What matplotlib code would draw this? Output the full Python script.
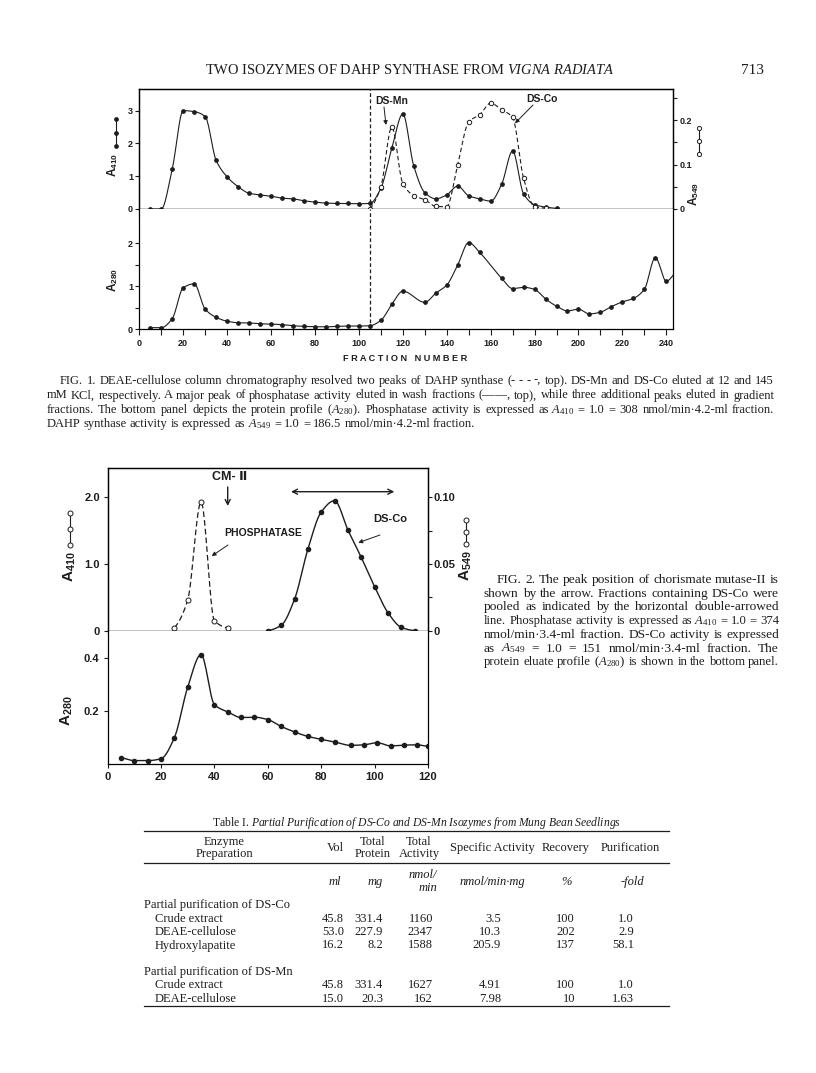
import numpy as np
import matplotlib
matplotlib.use('Agg')
import matplotlib.pyplot as plt
from matplotlib.lines import Line2D

plt.rcParams['font.family'] = ['Liberation Sans', 'DejaVu Sans']
plt.rcParams['font.weight'] = 'bold'
plt.rcParams['mathtext.fontset'] = 'custom'
plt.rcParams['mathtext.rm'] = 'Liberation Serif:weight=normal'
plt.rcParams['mathtext.it'] = 'Liberation Serif:style=italic:weight=normal'
plt.rcParams['mathtext.sf'] = 'Liberation Sans:weight=bold'
plt.rcParams['axes.linewidth'] = 0.9

# ---- Fig 1 data (fraction number) ----
frac_a410 = [5, 10, 15, 20, 25, 30, 35, 40, 45, 50, 55, 60, 65, 70, 75, 80, 85, 90, 95,
             100, 105, 110, 115, 120, 125, 130, 135, 140, 145, 150, 155, 160, 165, 170,
             175, 180, 185, 190]
a410 = [0, 0, 1.22, 3.0, 2.97, 2.82, 1.48, 0.98, 0.68, 0.48, 0.43, 0.39, 0.33, 0.31, 0.25,
        0.21, 0.18, 0.17, 0.17, 0.16, 0.17, 0.63, 1.85, 2.90, 1.31, 0.50, 0.31, 0.43, 0.70,
        0.40, 0.31, 0.24, 0.75, 1.77, 0.46, 0.13, 0.06, 0.02]
frac_a549 = [105, 110, 115, 120, 125, 130, 135, 140, 145, 150, 155, 160, 165, 170, 175, 180, 185]
a549 = [0.0, 0.05, 0.184, 0.057, 0.030, 0.021, 0.006, 0.005, 0.10, 0.196, 0.212, 0.238,
        0.223, 0.206, 0.069, 0.005, 0.002]
frac_a280 = [5, 10, 15, 20, 25, 30, 35, 40, 45, 50, 55, 60, 65, 70, 75, 80, 85, 90, 95, 100,
             105, 110, 115, 120, 130, 135, 140, 145, 150, 155, 165, 170, 175, 180, 185, 190,
             195, 200, 205, 210, 215, 220, 225, 230, 235, 240, 245]
a280 = [0.04, 0.04, 0.25, 0.97, 1.06, 0.47, 0.28, 0.19, 0.155, 0.15, 0.13, 0.124, 0.11,
        0.085, 0.07, 0.062, 0.06, 0.07, 0.078, 0.078, 0.085, 0.21, 0.58, 0.89, 0.63, 0.84,
        1.03, 1.50, 2.02, 1.79, 1.19, 0.95, 0.98, 0.93, 0.71, 0.54, 0.43, 0.47, 0.36, 0.40,
        0.53, 0.64, 0.72, 0.93, 1.67, 1.12, 1.35]
wash_end = 105

# ---- Fig 2 data ----
frac_phos = [25, 30, 35, 40, 45]
phos = [0.045, 0.46, 1.93, 0.15, 0.04]
frac_dsco = [60, 65, 70, 75, 80, 85, 90, 95, 100, 105, 110, 115]
dsco = [0, 0.004, 0.0235, 0.061, 0.089, 0.0975, 0.0755, 0.055, 0.033, 0.0135, 0.0025, 0]
frac_prot2 = [5, 10, 15, 20, 25, 30, 35, 40, 45, 50, 55, 60, 65, 70, 75, 80, 85, 91, 96,
              101, 106, 111, 116, 120]
prot2 = [0.022, 0.011, 0.011, 0.018, 0.098, 0.29, 0.414, 0.224, 0.196, 0.175, 0.176, 0.167,
         0.141, 0.12, 0.103, 0.092, 0.082, 0.069, 0.071, 0.079, 0.067, 0.07, 0.071, 0.065]

# ---- Table I ----
tab_cols = ['Vol', 'Total\nProtein', 'Total\nActivity', 'Specific Activity', 'Recovery', 'Purification']
tab_units = ['ml', 'mg', 'nmol/\nmin', 'nmol/min·mg', '%', '-fold']
sec_co = 'Partial purification of DS-Co'
rows_co = ['Crude extract', 'DEAE-cellulose', 'Hydroxylapatite']
vals_co = [['45.8', '331.4', '1160', '3.5', '100', '1.0'],
           ['53.0', '227.9', '2347', '10.3', '202', '2.9'],
           ['16.2', '8.2', '1588', '205.9', '137', '58.1']]
sec_mn = 'Partial purification of DS-Mn'
rows_mn = ['Crude extract', 'DEAE-cellulose']
vals_mn = [['45.8', '331.4', '1627', '4.91', '100', '1.0'],
           ['15.0', '20.3', '162', '7.98', '10', '1.63']]

W, H = 816, 1073
ink = '#1d1d1d'
fig = plt.figure(figsize=(W / 100, H / 100), dpi=100)
fig.patch.set_facecolor('white')
R = fig.canvas.get_renderer()


def box(x0, y0, x1, y1):
    return fig.add_axes([x0 / W, 1 - y1 / H, (x1 - x0) / W, (y1 - y0) / H])


def smooth(x, y, n=16):
    # monotone cubic through the read points, only for drawing the curve
    x = np.asarray(x, float)
    y = np.asarray(y, float)
    h = np.diff(x)
    d = np.diff(y) / h
    m = np.zeros_like(y)
    for k in range(1, len(x) - 1):
        if d[k - 1] * d[k] > 0:
            w1 = 2 * h[k] + h[k - 1]
            w2 = h[k] + 2 * h[k - 1]
            m[k] = (w1 + w2) / (w1 / d[k - 1] + w2 / d[k])
    m[0] = d[0] * 0.5
    m[-1] = d[-1] * 0.5
    t = np.linspace(0, 1, n, endpoint=False)
    h00 = 2 * t**3 - 3 * t**2 + 1
    h10 = t**3 - 2 * t**2 + t
    h01 = -2 * t**3 + 3 * t**2
    h11 = t**3 - t**2
    xs, ys = [], []
    for k in range(len(h)):
        xs.append(x[k] + t * h[k])
        ys.append(h00 * y[k] + h10 * h[k] * m[k] + h01 * y[k + 1] + h11 * h[k] * m[k + 1])
    xs.append([x[-1]])
    ys.append([y[-1]])
    return np.concatenate(xs), np.concatenate(ys)


def ftext(x, y, s, size, **kw):
    kw.setdefault('family', 'Liberation Serif')
    kw.setdefault('weight', 'normal')
    kw.setdefault('va', 'baseline')
    return fig.text(x / W, 1 - y / H, s, fontsize=size, color=ink, **kw)


def width(s, size):
    t = ftext(0, 0, s, size)
    w = t.get_window_extent(renderer=R).width
    t.remove()
    return w


def fit(t, w):
    t.set_fontsize(t.get_fontsize() * w / t.get_window_extent(renderer=R).width)
    return t


def jline(x0, x1, y, s, size, justify=True):
    # words placed one by one; extra space spread evenly between words
    words = s.split(' ')
    right = [width(' '.join(words[:k + 1]), size) for k in range(len(words))]
    own = [width(w, size) for w in words]
    extra = (x1 - x0 - right[-1]) / (len(words) - 1) if justify else 0.0
    extra = max(extra, 0.0)
    for k, w in enumerate(words):
        ftext(x0 + right[k] - own[k] + k * extra, y, w, size)


def paragraph(lines, starts, x1, y0, dy, size, nfull):
    r = [(x1 - x0) / width(s, size) for s, x0 in zip(lines[:nfull], starts)]
    base = size * float(np.median(r))
    for i, (s, x0) in enumerate(zip(lines, starts)):
        if i < nfull:
            jline(x0, x1, y0 + dy * i, s, min(base, size * r[i]))
        else:
            jline(x0, x1, y0 + dy * i, s, base, justify=False)


def fline(xs, ys, **kw):
    fig.add_artist(Line2D([v / W for v in xs], [1 - v / H for v in ys],
                          transform=fig.transFigure, color=ink, **kw))


def arrow(x0, y0, x1, y1, style='-|>', ms=6, lw=0.7):
    fig.add_artist(matplotlib.patches.FancyArrowPatch(
        (x0 / W, 1 - y0 / H), (x1 / W, 1 - y1 / H), transform=fig.transFigure,
        arrowstyle=style, mutation_scale=ms, lw=lw, color=ink, shrinkA=0, shrinkB=0))


def ticks(ax, size, **kw):
    ax.tick_params(colors=ink, labelsize=size, width=0.8, direction='out', **kw)


# ================= Fig. 1 =================
a1 = box(139.3, 89.3, 672.9, 209)
a1.set_xlim(0, 243)
a1.set_ylim(0, 3.65)
sx, sy = smooth(frac_a410, a410)
a1.plot(sx, sy, color=ink, lw=0.8)
a1.plot(frac_a410, a410, 'o', ms=2.4, color=ink, clip_on=False)
a1.axvline(wash_end, color=ink, lw=0.9, ls=(0, (3, 2)))
a1.set_xticks(range(0, 241, 10))
a1.set_xticklabels([])
a1.set_yticks([0, 1, 2, 3])
ticks(a1, 6.5, length=3, pad=1.5)
a1.tick_params(axis='x', length=6)

a1r = a1.twinx()
a1r.set_ylim(0, 0.269)
sx, sy = smooth(frac_a549, a549)
a1r.plot(sx, sy, color=ink, lw=0.8, ls=(0, (4, 2.5)))
a1r.plot(frac_a549, a549, 'o', ms=3.2, mfc='white', mec=ink, mew=0.7, clip_on=False)
a1r.set_yticks([0, 0.05, 0.1, 0.15, 0.2, 0.25])
a1r.set_yticklabels(['0', '', '0.1', '', '0.2', ''])
ticks(a1r, 6.5, length=3, pad=1.5)

a2 = box(139.3, 209, 672.9, 329.4)
a2.set_xlim(0, 243)
a2.set_ylim(0, 2.8)
sx, sy = smooth(frac_a280, a280)
a2.plot(sx, sy, color=ink, lw=0.8)
a2.plot(frac_a280, a280, 'o', ms=2.4, color=ink)
a2.axvline(wash_end, color=ink, lw=0.9, ls=(0, (3, 2)))
a2.spines['top'].set_visible(False)
a2.set_xticks(range(0, 241, 10))
a2.set_xticklabels([str(v) if v % 20 == 0 else '' for v in range(0, 241, 10)])
a2.set_yticks([0, 0.5, 1, 1.5, 2])
a2.set_yticklabels(['0', '', '1', '', '2'])
ticks(a2, 6.5, length=3, pad=1.5)
a2.tick_params(axis='x', length=4.5, pad=2.5)

fig.text(113 / W, 1 - 165 / H, r'A$_{\mathsf{410}}$', rotation=90, fontsize=8.5,
         ha='center', va='center', color=ink)
fline([116, 116], [119.3, 146], lw=0.8, marker='o', ms=2.4)
fline([116], [133], marker='o', ms=2.4)
fig.text(694 / W, 1 - 194 / H, r'A$_{\mathsf{549}}$', rotation=90, fontsize=8.5,
         ha='center', va='center', color=ink)
fline([699, 699], [128, 154], lw=0.8, marker='o', ms=3, mfc='white', mew=0.7)
fline([699], [141], marker='o', ms=3, mfc='white', mew=0.7)
fig.text(113 / W, 1 - 280 / H, r'A$_{\mathsf{280}}$', rotation=90, fontsize=8.5,
         ha='center', va='center', color=ink)
fig.text(405 / W, 1 - 358 / H, 'F R A C T I O N   N U M B E R', fontsize=6.6,
         ha='center', va='center', color=ink)

fig.text(391.7 / W, 1 - 100.7 / H, 'DS-Mn', fontsize=7.5, ha='center', va='center', color=ink)
arrow(384, 107, 386, 125)
fig.text(541.7 / W, 1 - 99.3 / H, 'DS-Co', fontsize=7.5, ha='center', va='center', color=ink)
arrow(533, 105, 515, 123.3)

# page header
fit(ftext(410, 74, r'TWO ISOZYMES OF DAHP SYNTHASE FROM $\mathit{VIGNA\ RADIATA}$', 11,
          ha='center'), 408)
ftext(752, 74, '713', 11, ha='center')

# Fig. 1 caption
cap1 = ['FIG. 1. DEAE-cellulose column chromatography resolved two peaks of DAHP synthase '
        '(- - - -, top). DS-Mn and DS-Co eluted at 12 and 145',
        'mM KCl, respectively. A major peak of phosphatase activity eluted in wash fractions '
        '(——, top), while three additional peaks eluted in gradient',
        r'fractions. The bottom panel depicts the protein profile ($\mathit{A}_{280}$). '
        r'Phosphatase activity is expressed as $\mathit{A}_{410}$ = 1.0 = 308 nmol/min·4.2-ml fraction.',
        r'DAHP synthase activity is expressed as $\mathit{A}_{549}$ = 1.0 = 186.5 nmol/min·4.2-ml fraction.']
paragraph(cap1, [60, 47, 47, 47], 774, 384, 14.5, 9.5, 3)

# ================= Fig. 2 =================
a3 = box(107.6, 468, 428, 630.7)
a3.set_xlim(0, 120)
a3.set_ylim(0, 2.44)
sx, sy = smooth(frac_phos, phos)
a3.plot(sx, sy, color=ink, lw=0.9, ls=(0, (4.5, 2.5)))
a3.plot(frac_phos, phos, 'o', ms=3.6, mfc='white', mec=ink, mew=0.7)
a3.set_xticks([])
a3.set_yticks([0, 1, 2])
a3.set_yticklabels(['0', '1.0', '2.0'])
ticks(a3, 8, length=3, pad=2.5)

a3r = a3.twinx()
a3r.set_ylim(0, 0.122)
sx, sy = smooth(frac_dsco, dsco)
a3r.plot(sx, sy, color=ink, lw=1.0)
a3r.plot(frac_dsco, dsco, 'o', ms=3, color=ink, clip_on=False)
a3r.set_yticks([0, 0.025, 0.05, 0.075, 0.1])
a3r.set_yticklabels(['0', '', '0.05', '', '0.10'])
ticks(a3r, 8, length=3, pad=1)

a4 = box(107.6, 630.7, 428, 763.5)
a4.set_xlim(0, 120)
a4.set_ylim(0, 0.505)
sx, sy = smooth(frac_prot2, prot2)
a4.plot(sx, sy, color=ink, lw=1.0)
a4.plot(frac_prot2, prot2, 'o', ms=3, color=ink)
a4.spines['top'].set_visible(False)
a4.set_xticks(range(0, 121, 20))
a4.set_yticks([0.2, 0.4])
ticks(a4, 8, length=3, pad=3)

fig.text(70 / W, 1 - 567 / H, r'A$_{\mathsf{410}}$', rotation=90, fontsize=11,
         ha='center', va='center', color=ink)
fline([70, 70], [513, 545], lw=0.8, marker='o', ms=3.6, mfc='white', mew=0.7)
fline([70], [529], marker='o', ms=3.6, mfc='white', mew=0.7)
fig.text(466 / W, 1 - 566 / H, r'A$_{\mathsf{549}}$', rotation=90, fontsize=11,
         ha='center', va='center', color=ink)
fline([466, 466], [520, 544], lw=0.8, marker='o', ms=3.6, mfc='white', mew=0.7)
fline([466], [532], marker='o', ms=3.6, mfc='white', mew=0.7)
fig.text(67 / W, 1 - 711 / H, r'A$_{\mathsf{280}}$', rotation=90, fontsize=11,
         ha='center', va='center', color=ink)

fig.text(230 / W, 1 - 477 / H, 'CM- Ⅱ', fontsize=9, ha='center', va='center', color=ink)
arrow(227.7, 487, 227.7, 506, style='->', ms=9, lw=1)
arrow(291, 491.7, 394.3, 491.7, style='<->', ms=9, lw=1)
fig.text(263 / W, 1 - 533 / H, 'PHOSPHATASE', fontsize=7.5, ha='center', va='center', color=ink)
arrow(228, 545, 211.7, 556)
fig.text(390 / W, 1 - 519 / H, 'DS-Co', fontsize=8, ha='center', va='center', color=ink)
arrow(380, 535, 358.3, 542.7)

cap2 = ['FIG. 2. The peak position of chorismate mutase-II is',
        'shown by the arrow. Fractions containing DS-Co were',
        'pooled as indicated by the horizontal double-arrowed',
        r'line. Phosphatase activity is expressed as $\mathit{A}_{410}$ = 1.0 = 374',
        'nmol/min·3.4-ml fraction. DS-Co activity is expressed',
        r'as $\mathit{A}_{549}$ = 1.0 = 151 nmol/min·3.4-ml fraction. The',
        r'protein eluate profile ($\mathit{A}_{280}$) is shown in the bottom panel.']
paragraph(cap2, [497, 484, 484, 484, 484, 484, 484], 779, 583, 13.7, 9.5, 7)

# ================= Table I =================
fit(ftext(416, 826, r'Table I. $\mathit{Partial\ Purification\ of\ DS}$-$\mathit{Co\ and\ DS}$-'
          r'$\mathit{Mn\ Isozymes\ from\ Mung\ Bean\ Seedlings}$', 9, ha='center'), 407)
fline([144, 669], [831, 831], lw=0.9)
fline([144, 669], [863, 863], lw=0.9)
fline([144, 669], [1006, 1006], lw=0.9)

ts = 9
ftext(224, 845, 'Enzyme', ts, ha='center')
ftext(224, 857, 'Preparation', ts, ha='center')
head_x = [335, 373, 419, 492.5, 566, 630]
for x, s in zip(head_x, tab_cols):
    parts = s.split('\n')
    if len(parts) == 1:
        ftext(x, 851, s, ts, ha='center')
    else:
        ftext(x, 845, parts[0], ts, ha='center')
        ftext(x, 857, parts[1], ts, ha='center')

unit_x = [335, 375, 437, 492.5, 566, 632]
for x, s in zip(unit_x, tab_units):
    parts = s.split('\n')
    if len(parts) == 1:
        ftext(x, 885, s, ts, ha='center', style='italic')
    else:
        ftext(x, 878, parts[0], ts, ha='right', style='italic')
        ftext(x, 891, parts[1], ts, ha='right', style='italic')

num_x = [344, 383, 433, 501, 575, 634]


def table_block(y0, title, names, vals):
    ftext(144.5, y0, title, ts)
    for j, (nm, row) in enumerate(zip(names, vals)):
        y = y0 + 13.5 * (j + 1)
        ftext(155, y, nm, ts)
        for x, v in zip(num_x, row):
            ftext(x, y, v, ts, ha='right')


table_block(908, sec_co, rows_co, vals_co)
table_block(975, sec_mn, rows_mn, vals_mn)

fig.savefig('out.png', dpi=100, facecolor='white')
